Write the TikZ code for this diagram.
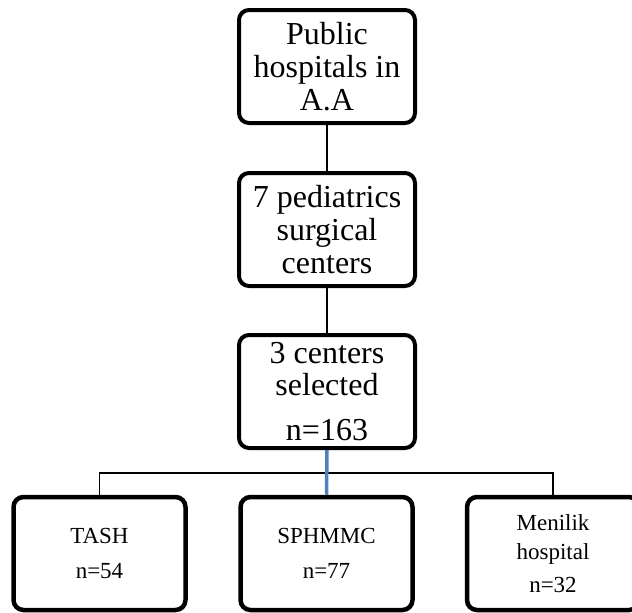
\documentclass[tikz,border=0pt]{standalone}
\usepackage{fontspec}
\setmainfont{Liberation Serif}
\definecolor{linkblue}{HTML}{4F81BD}
\tikzset{
  bigbox/.style={draw, line width=4pt, rounded corners=10pt, align=center,
    minimum width=176pt, minimum height=113pt, inner sep=0pt,
    font=\fontsize{32}{33}\selectfont},
  smallbox/.style={draw, line width=4.5pt, rounded corners=10pt, align=center,
    minimum width=172pt, minimum height=113pt, inner sep=0pt,
    font=\fontsize{23}{35}\selectfont},
  link/.style={line width=1.5pt},
  bluelink/.style={line width=3.5pt, linkblue}
}
\begin{document}
\begin{tikzpicture}[x=1pt, y=-1pt]
\useasboundingbox (0,0) rectangle (632,613);
% three stacked boxes
\node[bigbox] (hosp) at (327,66.5) {Public\\hospitals in\\A.A};
\node[bigbox] (ped) at (327,229.5) {7 pediatrics\\surgical\\centers};
\node[bigbox] (sel) at (327,391.5) {3 centers\\[-1pt]selected\\[12pt]n=163};
% centers selected
\node[smallbox] (tash) at (99.5,553.5) {TASH\\n=54};
\node[smallbox] (sph) at (326.5,553.5) {SPHMMC\\n=77};
\node[smallbox, font=\fontsize{23}{29}\selectfont] (men) at (553,553.5) {Menilik\\hospital\\[4pt]n=32};
\coordinate (split) at (326,473);
\draw[link] (hosp) -- (ped);
\draw[link] (ped) -- (sel);
\draw[link] (sel.south -| split) -- (split);
\draw[link] (tash.north) |- (split) -| (men.north);
\draw[bluelink] (sel.south) -- (sph.north);
\end{tikzpicture}
\end{document}
